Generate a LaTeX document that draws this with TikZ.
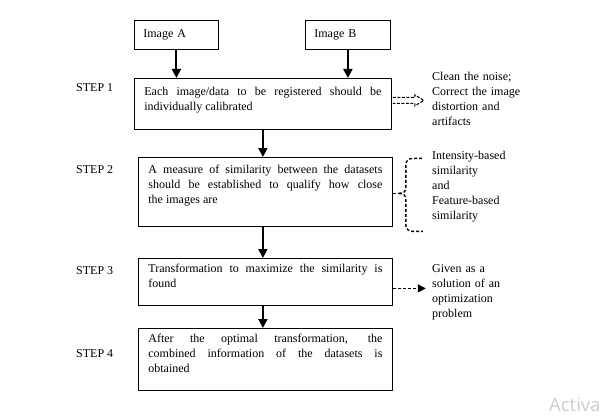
\documentclass[tikz,border=0pt]{standalone}
\usepackage{fontspec}
\setmainfont{Liberation Serif}
\newfontfamily\wmfamily{Open Sans}
\usetikzlibrary{arrows.meta,calc}
\newcommand\bodyfont{\fontsize{12}{15}\selectfont\tolerance=9999 \hyphenpenalty=10000 }
\tikzset{
  imgbox/.style={draw, line width=0.8pt, anchor=north west, inner xsep=9pt, inner ysep=0pt,
    minimum height=29pt, align=left, font=\bodyfont},
  stepbox/.style={draw, line width=0.8pt, anchor=north west, inner xsep=10pt, inner ysep=0pt,
    align=justify, font=\bodyfont},
  steplabel/.style={anchor=base west, inner sep=0pt, font=\bodyfont},
  sidetext/.style={anchor=base west, inner sep=0pt, text width=120pt, align=left, font=\bodyfont},
  flow/.style={line width=2pt, -{Triangle[length=9pt,width=9pt]}},
  dashlink/.style={line width=1.4pt, dash pattern=on 3pt off 2pt},
}
\begin{document}
\begin{tikzpicture}[x=1pt,y=1pt]
\useasboundingbox (0,0) rectangle (605,-420);
% input boxes
\node[imgbox, minimum width=84pt, text width=66pt] (imgA) at (134,-20) {Image A};
\node[imgbox, minimum width=85pt, text width=67pt] (imgB) at (305,-20) {Image B};
% step boxes
\node[stepbox, text width=237pt, text height=17pt, text depth=34pt] (box1) at (134,-78)
  {Each image/data to be registered should be\linebreak individually calibrated};
\node[stepbox, text width=234pt, text height=16pt, text depth=53pt] (box2) at (138,-157)
  {A measure of similarity between the datasets\linebreak should be established to qualify how close\linebreak the images are};
\node[stepbox, text width=234pt, text height=14pt, text depth=33pt] (box3) at (138,-258)
  {Transformation to maximize the similarity is\linebreak found};
\node[stepbox, text width=234pt, text height=14pt, text depth=48pt] (box4) at (138,-328)
  {After the optimal transformation, the\linebreak combined information of the datasets is\linebreak obtained};
% step labels
\node[steplabel] (s1) at (76,-92) {STEP 1};
\node[steplabel] (s2) at (76,-173) {STEP 2};
\node[steplabel] (s3) at (76,-274) {STEP 3};
\node[steplabel] (s4) at (76,-357) {STEP 4};
% side notes
\node[sidetext] (n1) at (432,-81) {Clean the noise;\\Correct the image\\distortion and\\artifacts};
\node[sidetext] (n2) at (432,-159) {Intensity-based\\similarity\\and\\Feature-based\\similarity};
\node[sidetext] (n3) at (432,-272) {Given as a\\solution of an\\optimization\\problem};
% main flow
\draw[flow] (imgA.south) -- (imgA.south |- box1.north);
\draw[flow] (imgB.south) -- (imgB.south |- box1.north);
\draw[flow] (box1.south) -- (box1.south |- box2.north);
\draw[flow] (box2.south -| box1.south) -- (box1.south |- box3.north);
\draw[flow] (box3.south -| box1.south) -- (box1.south |- box4.north);
% hollow dashed arrow from step 1
\coordinate (h1) at ($(box1.east)+(1,3.5)$);
\draw[line width=1.1pt, dash pattern=on 3pt off 1.5pt, line join=miter]
  ($(h1)+(0,3)$) -- ++(22,0) -- ++(0,2.5) -- ++(9,-5.5) -- ++(-9,-5.5) -- ++(0,2.5) -- ++(-22,0);
% brace from step 2
\coordinate (t2) at ($(box2.east)+(6,-1.5)$);
\draw[dashlink] (box2.east |- t2) -- (t2);
\draw[dashlink] (t2) .. controls +(5,0) and +(0,-4) .. ++(7,6) -- ++(0,22)
  .. controls +(0,5) and +(-4,0) .. ++(7,7) -- ++(10,0);
\draw[dashlink] (t2) .. controls +(5,0) and +(0,4) .. ++(7,-6) -- ++(0,-25)
  .. controls +(0,-5) and +(-4,0) .. ++(7,-7) -- ++(10,0);
% dashed arrow from step 3
\coordinate (a3) at ($(box3.east)+(0,-6.5)$);
\coordinate (a3e) at ($(a3)+(33,0)$);
\draw[dashlink, -{Triangle[length=8pt,width=8pt]}] (a3) -- (a3e);
% watermark
\node[anchor=base west, inner sep=0pt, text=gray!40, font=\wmfamily\fontsize{18.5}{18.5}\selectfont] (wm) at (549,-411) {Activa};
\end{tikzpicture}
\end{document}
